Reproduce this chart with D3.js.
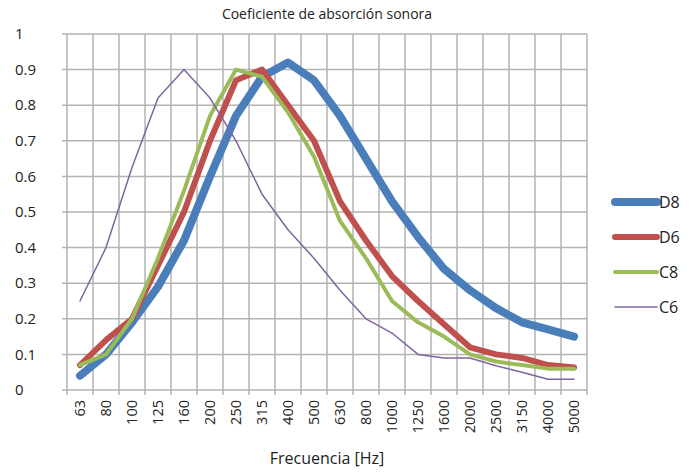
<!DOCTYPE html>
<html>
<head>
<meta charset="utf-8">
<script src="https://cdn.jsdelivr.net/npm/d3@7"></script>
<style>
  body { margin: 0; background: #fff; }
  text { font-family: "Open Sans", "Liberation Sans", sans-serif; fill: #222; }
</style>
</head>
<body>
<div class="visualization"></div>
<script>
// data
const frequencies = ['63', '80', '100', '125', '160', '200', '250', '315', '400', '500', '630', '800', '1000', '1250', '1600', '2000', '2500', '3150', '4000', '5000'];
const d8 = [0.04, 0.10, 0.19, 0.29, 0.42, 0.60, 0.77, 0.88, 0.92, 0.87, 0.77, 0.65, 0.53, 0.43, 0.34, 0.28, 0.23, 0.19, 0.17, 0.15];
const d6 = [0.07, 0.14, 0.20, 0.35, 0.50, 0.70, 0.87, 0.90, 0.80, 0.70, 0.53, 0.42, 0.32, 0.25, 0.185, 0.12, 0.10, 0.09, 0.07, 0.063];
const c8 = [0.07, 0.10, 0.20, 0.37, 0.56, 0.77, 0.90, 0.88, 0.78, 0.655, 0.475, 0.37, 0.25, 0.19, 0.15, 0.10, 0.08, 0.07, 0.06, 0.06];
const c6 = [0.25, 0.40, 0.625, 0.82, 0.90, 0.82, 0.70, 0.55, 0.45, 0.37, 0.28, 0.20, 0.16, 0.10, 0.09, 0.09, 0.068, 0.05, 0.03, 0.03];
const yTicks = [0, 0.1, 0.2, 0.3, 0.4, 0.5, 0.6, 0.7, 0.8, 0.9, 1];

const series = [
    {name: 'D8', values: d8, color: '#4a7ebb', width: 8},
    {name: 'D6', values: d6, color: '#c0504d', width: 6},
    {name: 'C8', values: c8, color: '#9bbb59', width: 4},
    {name: 'C6', values: c6, color: '#8064a2', width: 1.5}
];

const width = 699, height = 472;
const margin = {top: 34, left: 67, right: 112, bottom: 82};
const gridColor = '#b3b3b3';

const svg = d3.select('.visualization').append('svg')
    .attr('width', width)
    .attr('height', height);

const x = d3.scaleBand()
    .domain(frequencies)
    .range([margin.left, width - margin.right]);
const y = d3.scaleLinear()
    .domain([0, 1])
    .range([height - margin.bottom, margin.top]);

// horizontal grid + y labels
svg.append('g')
    .selectAll('line')
    .data(yTicks)
    .enter().append('line')
    .attr('x1', margin.left - 5)
    .attr('x2', width - margin.right)
    .attr('y1', d => y(d))
    .attr('y2', d => y(d))
    .style('stroke', gridColor)
    .style('stroke-width', 1.5);

svg.append('g')
    .selectAll('text')
    .data(yTicks)
    .enter().append('text')
    .attr('x', 15)
    .attr('y', d => y(d))
    .attr('dy', '0.35em')
    .style('font-size', '15px')
    .text(d => d3.format('')(d));

// vertical grid at category boundaries, with tick marks below the axis
const bounds = frequencies.map(f => x(f)).concat([x.range()[1]]);
svg.append('g')
    .selectAll('line')
    .data(bounds)
    .enter().append('line')
    .attr('x1', d => d)
    .attr('x2', d => d)
    .attr('y1', margin.top)
    .attr('y2', height - margin.bottom + 5)
    .style('stroke', gridColor)
    .style('stroke-width', 1.5);

// x tick labels, rotated
svg.append('g')
    .selectAll('text')
    .data(frequencies)
    .enter().append('text')
    .attr('transform', d => `translate(${x(d) + x.bandwidth() / 2},${height - margin.bottom + 10}) rotate(-90)`)
    .attr('text-anchor', 'end')
    .attr('dy', '0.35em')
    .style('font-size', '14.5px')
    .text(d => d);

// lines
const line = d3.line()
    .x((d, i) => x(frequencies[i]) + x.bandwidth() / 2)
    .y(d => y(d));

svg.append('g')
    .selectAll('path')
    .data(series)
    .enter().append('path')
    .attr('d', d => line(d.values))
    .style('fill', 'none')
    .style('stroke', d => d.color)
    .style('stroke-width', d => d.width)
    .style('stroke-linejoin', 'round')
    .style('stroke-linecap', 'round');

// legend
const legend = svg.append('g')
    .selectAll('g')
    .data(series)
    .enter().append('g')
    .attr('transform', (d, i) => `translate(615,${202 + i * 35})`);
legend.append('line')
    .attr('x1', 0)
    .attr('x2', 42)
    .style('stroke', d => d.color)
    .style('stroke-width', d => d.width)
    .style('stroke-linecap', 'round');
legend.append('text')
    .attr('x', 44)
    .attr('dy', '0.35em')
    .style('font-size', '16px')
    .text(d => d.name);

// titles
svg.append('text')
    .attr('x', (margin.left + width - margin.right) / 2)
    .attr('y', 14)
    .attr('dy', '0.35em')
    .attr('text-anchor', 'middle')
    .style('font-size', '14px')
    .text('Coeficiente de absorción sonora');

svg.append('text')
    .attr('x', (margin.left + width - margin.right) / 2)
    .attr('y', 458)
    .attr('dy', '0.35em')
    .attr('text-anchor', 'middle')
    .style('font-size', '16px')
    .text('Frecuencia [Hz]');
</script>
</body>
</html>
